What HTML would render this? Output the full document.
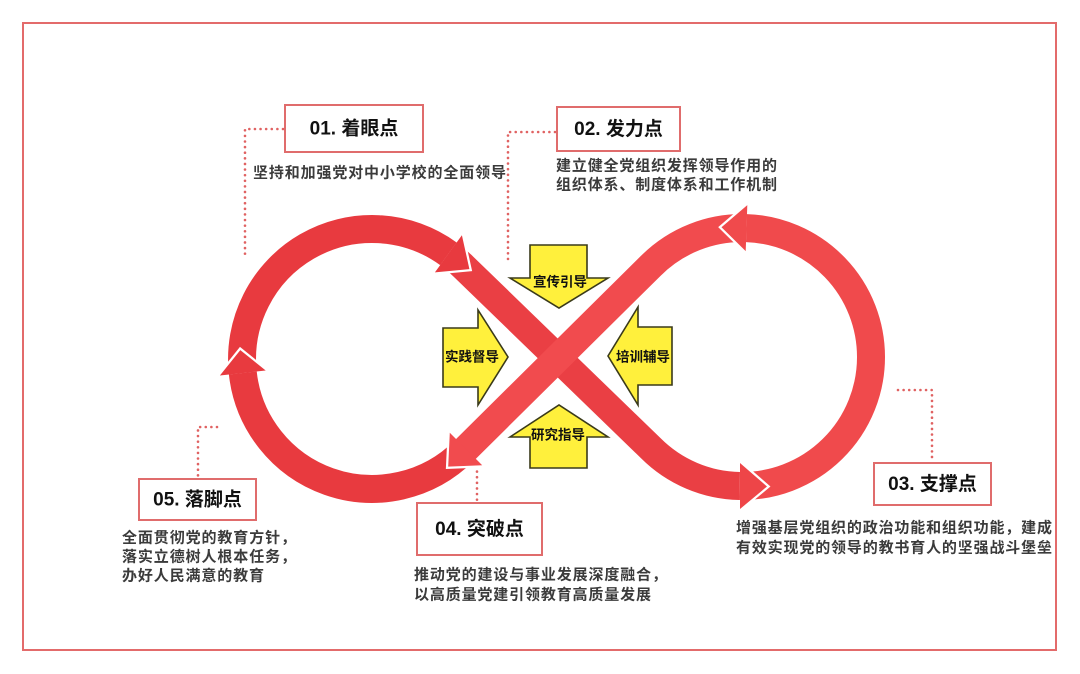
<!DOCTYPE html>
<html>
<head>
<meta charset="utf-8">
<style>
  html,body{margin:0;padding:0;background:#fff;}
  svg{display:block;}
  .t{font-family:"Liberation Sans","Noto Sans CJK SC",sans-serif;}
</style>
</head>
<body>
<svg width="1080" height="674" viewBox="0 0 1080 674" xmlns="http://www.w3.org/2000/svg">
  <rect width="1080" height="674" fill="#ffffff"/>
  <!-- outer frame -->
  <rect x="23" y="23" width="1033" height="627" fill="none" stroke="#e36b6b" stroke-width="2"/>

  <!-- dotted connectors -->
  <g fill="none" stroke="#e06262" stroke-width="2.6" stroke-dasharray="0.01 5.6" stroke-linecap="round">
    <path d="M283,129 H245 V257"/>
    <path d="M555,132 H508 V262"/>
    <path d="M898,390 H932 V462"/>
    <path d="M477,466 V503"/>
    <path d="M217,427 H198 V479"/>
  </g>

  <!-- red figure-eight bands -->
  <g fill="none" stroke-width="28" stroke-linecap="butt">
    <path d="M242.8,373.0 A130,130 0 0 1 448.4,253.8" stroke="#e83a3f"/>
    <path d="M463.9,450.9 A130,130 0 0 1 242.8,373.0" stroke="#e83a3f"/>
    <path d="M739.7,486.0 A129,129 0 0 0 871,357 A129,129 0 0 0 746.5,228.1" stroke="#f04a4c"/>
    <path d="M448.4,253.8 A130,130 0 0 1 463.9,267.1 L650.8,448.2 A129,129 0 0 0 739.7,486.0" stroke="#ea3f44"/>
    <path d="M746.5,228.1 A129,129 0 0 0 650.8,265.8 L463.9,450.9" stroke="#f14b4e"/>
  </g>

  <!-- arrowhead white gaps -->
  <g fill="none" stroke="#ffffff" stroke-width="4.5" stroke-linejoin="miter">
    <path d="M461.9,235.2 L469.4,269.1 L434.9,272.4"/>
    <path d="M740,463 L767,486.5 L740,509"/>
    <path d="M747.3,205.1 L721.5,227.2 L745.7,251.1"/>
    <path d="M449.8,432.7 L448.2,466.6 L482.2,465.3"/>
    <path d="M219.9,375.5 L240.3,350.1 L265.7,370.5"/>
  </g>
  <!-- arrowheads -->
  <polygon points="461.9,235.2 469.4,269.1 434.9,272.4" fill="#e83a3f"/>
  <polygon points="740,463 767,486.5 740,509" fill="#ee4548"/>
  <polygon points="747.3,205.1 721.5,227.2 745.7,251.1" fill="#f04a4c"/>
  <polygon points="449.8,432.7 448.2,466.6 482.2,465.3" fill="#f14b4e"/>
  <polygon points="219.9,375.5 240.3,350.1 265.7,370.5" fill="#e83a3f"/>

  <!-- yellow arrows -->
  <g fill="#fff03c" stroke="#3a3a1a" stroke-width="1.6" stroke-linejoin="miter">
    <polygon points="530,245 587,245 587,278 608,278 559,308 510,278 530,278"/>
    <polygon points="443,328 478,328 478,310 508,357 478,405 478,387 443,387"/>
    <polygon points="672,327 638,327 638,307 608,356 638,405 638,385 672,385"/>
    <polygon points="530,468 587,468 587,437 608,437 559,405 510,437 530,437"/>
  </g>
  <g class="t" font-size="13.5" font-weight="bold" fill="#111" text-anchor="middle" dominant-baseline="central">
    <text x="560" y="282">宣传引导</text>
    <text x="472" y="357">实践督导</text>
    <text x="643" y="357">培训辅导</text>
    <text x="558" y="435">研究指导</text>
  </g>

  <!-- title boxes -->
  <g fill="#ffffff" stroke="#e06c6c" stroke-width="2">
    <rect x="285" y="105" width="138" height="47"/>
    <rect x="557" y="107" width="123" height="44"/>
    <rect x="874" y="463" width="117" height="42"/>
    <rect x="417" y="503" width="125" height="52"/>
    <rect x="139" y="479" width="117" height="41"/>
  </g>
  <g class="t" font-size="19" font-weight="bold" fill="#111" text-anchor="middle" dominant-baseline="central">
    <text x="354" y="129">01. 着眼点</text>
    <text x="618.5" y="129.5">02. 发力点</text>
    <text x="932.5" y="484.5">03. 支撑点</text>
    <text x="479.5" y="529.5">04. 突破点</text>
    <text x="197.5" y="500">05. 落脚点</text>
  </g>

  <!-- descriptions -->
  <g class="t" font-size="15" font-weight="bold" fill="#3b3b3b" dominant-baseline="central">
    <text x="253" y="173" textLength="253" lengthAdjust="spacing">坚持和加强党对中小学校的全面领导</text>
    <text x="556" y="166" textLength="221" lengthAdjust="spacing">建立健全党组织发挥领导作用的</text>
    <text x="556" y="185" textLength="221" lengthAdjust="spacing">组织体系、制度体系和工作机制</text>
    <text x="736" y="528" textLength="316" lengthAdjust="spacing">增强基层党组织的政治功能和组织功能，建成</text>
    <text x="736" y="548" textLength="316" lengthAdjust="spacing">有效实现党的领导的教书育人的坚强战斗堡垒</text>
    <text x="414" y="575" textLength="253" lengthAdjust="spacing">推动党的建设与事业发展深度融合，</text>
    <text x="414" y="595" textLength="237" lengthAdjust="spacing">以高质量党建引领教育高质量发展</text>
    <text x="122" y="538" textLength="174" lengthAdjust="spacing">全面贯彻党的教育方针，</text>
    <text x="122" y="557" textLength="174" lengthAdjust="spacing">落实立德树人根本任务，</text>
    <text x="122" y="576" textLength="142" lengthAdjust="spacing">办好人民满意的教育</text>
  </g>
</svg>
</body>
</html>
